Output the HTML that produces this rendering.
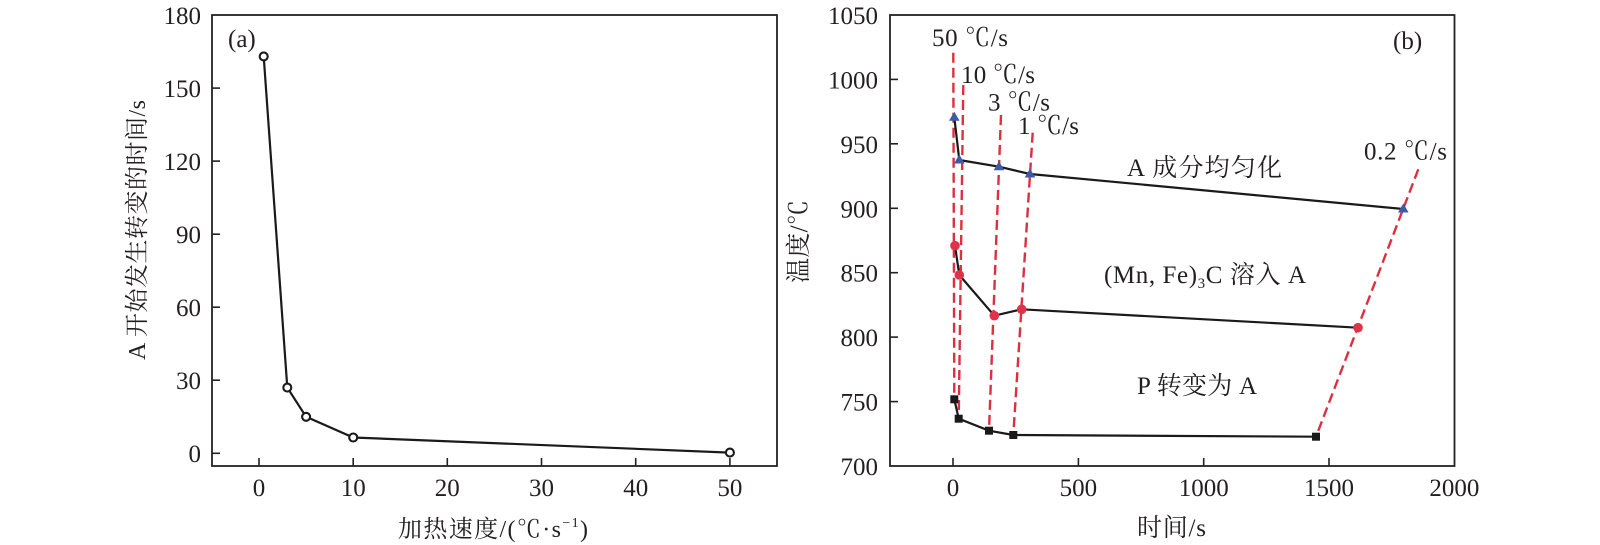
<!DOCTYPE html>
<html><head><meta charset="utf-8"><style>
html,body{margin:0;padding:0;background:#fff;}
svg{display:block;}
text{font-family:"Liberation Serif","Noto Serif CJK SC",serif;fill:#231f20;}
</style></head><body>
<svg width="1600" height="545" viewBox="0 0 1600 545" xmlns="http://www.w3.org/2000/svg">
<!-- LEFT PLOT -->
<rect x="212" y="15" width="565" height="451" fill="none" stroke="#222" stroke-width="1.8"/>
<g stroke="#222" stroke-width="1.6">
<line x1="212" y1="453.3" x2="220" y2="453.3"/>
<line x1="212" y1="380.2" x2="220" y2="380.2"/>
<line x1="212" y1="307.2" x2="220" y2="307.2"/>
<line x1="212" y1="234.2" x2="220" y2="234.2"/>
<line x1="212" y1="161.1" x2="220" y2="161.1"/>
<line x1="212" y1="88.1" x2="220" y2="88.1"/>
<line x1="259" y1="466" x2="259" y2="458"/>
<line x1="353.2" y1="466" x2="353.2" y2="458"/>
<line x1="447.3" y1="466" x2="447.3" y2="458"/>
<line x1="541.5" y1="466" x2="541.5" y2="458"/>
<line x1="635.7" y1="466" x2="635.7" y2="458"/>
<line x1="729.9" y1="466" x2="729.9" y2="458"/>
</g>
<g font-size="25" text-anchor="end">
<text x="201" y="462">0</text>
<text x="201" y="389">30</text>
<text x="201" y="316">60</text>
<text x="201" y="243">90</text>
<text x="201" y="170">120</text>
<text x="201" y="97">150</text>
<text x="201" y="24">180</text>
</g>
<g font-size="25" text-anchor="middle">
<text x="259" y="496">0</text>
<text x="353.2" y="496">10</text>
<text x="447.3" y="496">20</text>
<text x="541.5" y="496">30</text>
<text x="635.7" y="496">40</text>
<text x="729.9" y="496">50</text>
</g>
<text x="228" y="47" font-size="25">(a)</text>
<polyline points="263.7,56.4 287.3,387.6 306.1,416.8 353.2,437.5 729.9,452.6" fill="none" stroke="#1a1a1a" stroke-width="2.2"/>
<g fill="#fff" stroke="#1a1a1a" stroke-width="2.1">
<circle cx="263.7" cy="56.4" r="4"/>
<circle cx="287.3" cy="387.6" r="4"/>
<circle cx="306.1" cy="416.8" r="4"/>
<circle cx="353.2" cy="437.5" r="4"/>
<circle cx="729.9" cy="452.6" r="4"/>
</g>
<text transform="translate(145,230) rotate(-90)" font-size="24" text-anchor="middle" textLength="260" lengthAdjust="spacing">A 开始发生转变的时间/s</text>
<text x="398" y="537" font-size="24" textLength="190" lengthAdjust="spacing">加热速度/(℃·s<tspan font-size="14" dy="-10">−1</tspan><tspan dy="10">)</tspan></text>

<!-- RIGHT PLOT -->
<rect x="890" y="15" width="564.5" height="451" fill="none" stroke="#222" stroke-width="1.8"/>
<g stroke="#222" stroke-width="1.6">
<line x1="890" y1="401.6" x2="898" y2="401.6"/>
<line x1="890" y1="337.1" x2="898" y2="337.1"/>
<line x1="890" y1="272.7" x2="898" y2="272.7"/>
<line x1="890" y1="208.3" x2="898" y2="208.3"/>
<line x1="890" y1="143.8" x2="898" y2="143.8"/>
<line x1="890" y1="79.4" x2="898" y2="79.4"/>
<line x1="953" y1="466" x2="953" y2="458"/>
<line x1="1078.4" y1="466" x2="1078.4" y2="458"/>
<line x1="1203.7" y1="466" x2="1203.7" y2="458"/>
<line x1="1329" y1="466" x2="1329" y2="458"/>
</g>
<g font-size="25" text-anchor="end">
<text x="878" y="475">700</text>
<text x="878" y="410.6">750</text>
<text x="878" y="346.1">800</text>
<text x="878" y="281.7">850</text>
<text x="878" y="217.3">900</text>
<text x="878" y="152.8">950</text>
<text x="878" y="88.4">1000</text>
<text x="878" y="24">1050</text>
</g>
<g font-size="25" text-anchor="middle">
<text x="953" y="496">0</text>
<text x="1078.4" y="496">500</text>
<text x="1203.7" y="496">1000</text>
<text x="1329" y="496">1500</text>
<text x="1454.4" y="496">2000</text>
</g>
<text transform="translate(807,241.5) rotate(-90)" font-size="25" text-anchor="middle" textLength="83" lengthAdjust="spacing">温度/℃</text>
<text x="1137" y="536" font-size="25" textLength="69" lengthAdjust="spacing">时间/s</text>
<text x="1393" y="49" font-size="25">(b)</text>

<!-- dashed red lines -->
<g stroke="#dc2f3f" stroke-width="2.4" stroke-dasharray="10,5" fill="none">
<line x1="953.3" y1="52.7" x2="954.3" y2="399.3"/>
<line x1="963.3" y1="85" x2="958.7" y2="418.7"/>
<line x1="1001" y1="115" x2="989" y2="430.7"/>
<line x1="1032.7" y1="132.7" x2="1013.3" y2="435"/>
<line x1="1418.3" y1="169.3" x2="1316" y2="436.7"/>
</g>

<!-- black series lines -->
<g stroke="#1a1a1a" stroke-width="2.2" fill="none">
<polyline points="954.3,117.3 959.3,160 999,166.7 1030,174 1403.3,209"/>
<polyline points="955,245.7 959.3,275 994.3,315.7 1021.7,309.3 1358,327.7"/>
<polyline points="954.3,399.3 958.7,418.7 989,430.7 1013.3,435 1316,436.7"/>
</g>

<!-- markers -->
<g fill="#3b5ba8">
<polygon points="954.3,111.8 959.6,120.8 949,120.8"/>
<polygon points="959.3,154.5 964.6,163.5 954,163.5"/>
<polygon points="999,161.2 1004.3,170.2 993.7,170.2"/>
<polygon points="1030,168.5 1035.3,177.5 1024.7,177.5"/>
<polygon points="1403.3,203.5 1408.6,212.5 1398,212.5"/>
</g>
<g fill="#e0334a">
<circle cx="955" cy="245.7" r="4.8"/>
<circle cx="959.3" cy="275" r="4.8"/>
<circle cx="994.3" cy="315.7" r="4.8"/>
<circle cx="1021.7" cy="309.3" r="4.8"/>
<circle cx="1358" cy="327.7" r="4.8"/>
</g>
<g fill="#1a1a1a">
<rect x="950.3" y="395.3" width="8" height="8"/>
<rect x="954.7" y="414.7" width="8" height="8"/>
<rect x="985" y="426.7" width="8" height="8"/>
<rect x="1009.3" y="431" width="8" height="8"/>
<rect x="1312" y="432.7" width="8" height="8"/>
</g>

<!-- annotations -->
<g font-size="25">
<text x="932" y="46" textLength="76" lengthAdjust="spacing">50 ℃/s</text>
<text x="961" y="83" textLength="74" lengthAdjust="spacing">10 ℃/s</text>
<text x="988" y="110.7" textLength="62" lengthAdjust="spacing">3 ℃/s</text>
<text x="1018" y="134" textLength="61" lengthAdjust="spacing">1 ℃/s</text>
<text x="1364" y="159.3" textLength="83" lengthAdjust="spacing">0.2 ℃/s</text>
<text x="1127" y="176" textLength="155" lengthAdjust="spacing">A 成分均匀化</text>
<text x="1104" y="283" textLength="202" lengthAdjust="spacing">(Mn, Fe)<tspan font-size="15" dy="5">3</tspan><tspan dy="-5">C 溶入 A</tspan></text>
<text x="1137" y="394" textLength="120" lengthAdjust="spacing">P 转变为 A</text>
</g>
</svg>
</body></html>
